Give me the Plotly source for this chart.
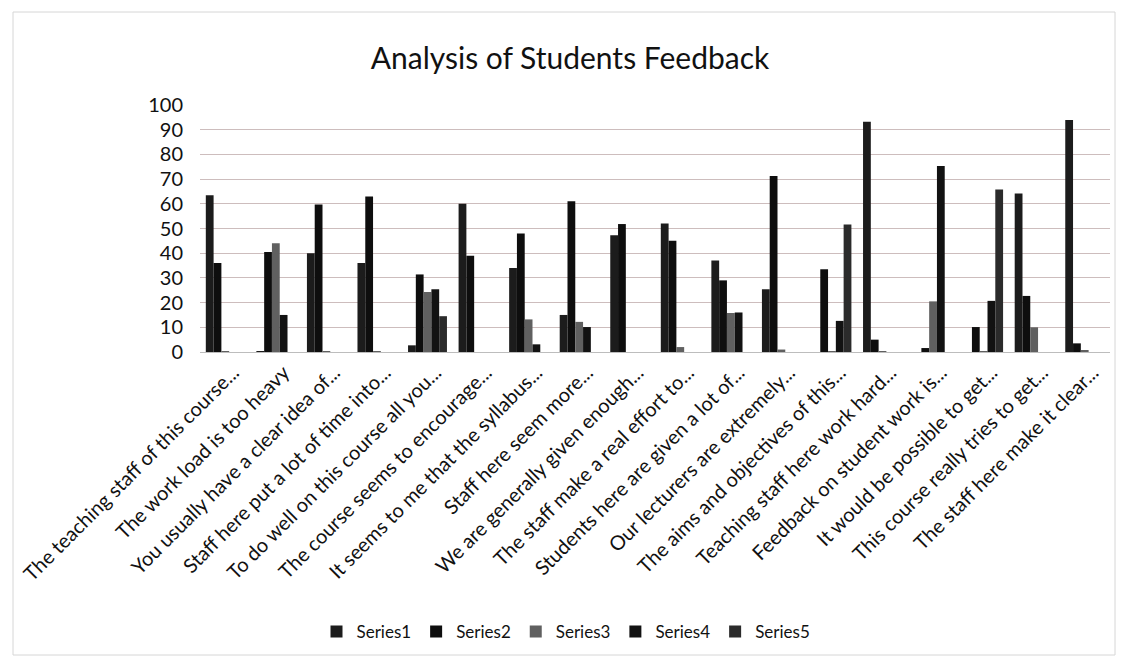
import plotly.graph_objects as go

categories = [
    "The teaching staff of this course...",
    "The work load is too heavy",
    "You usually have a clear idea of...",
    "Staff here put a lot of time into...",
    "To do well on this course all you...",
    "The course seems to encourage...",
    "It seems to me that the syllabus...",
    "Staff here seem more...",
    "We are generally given enough...",
    "The staff make a real effort to...",
    "Students here are given a lot of...",
    "Our lecturers are extremely...",
    "The aims and objectives of this...",
    "Teaching staff here work hard...",
    "Feedback on student work is...",
    "It would be possible to get...",
    "This course really tries to get...",
    "The staff here make it clear...",
]

series1 = [63.5, 0.3, 40, 36, 2.7, 60, 34, 15, 47.3, 52, 37, 25.4, 0, 93.2, 0, 0, 64.2, 93.9]
series2 = [36, 40.5, 59.7, 63, 31.4, 39, 48, 61, 51.8, 45, 29, 71.3, 33.5, 5, 1.6, 10.1, 22.7, 3.5]
series3 = [0.3, 44, 0.3, 0.3, 24.3, 0, 13.2, 12.2, 0, 2, 15.8, 1, 0.3, 0.3, 20.5, 0.3, 10, 0.5]
series4 = [0, 15, 0, 0, 25.4, 0, 3.1, 10.1, 0, 0, 16, 0, 12.6, 0, 75.3, 20.7, 0, 0]
series5 = [0, 0, 0, 0, 14.5, 0, 0, 0, 0, 0, 0, 0, 51.6, 0, 0, 65.8, 0, 0]

series_names = ["Series1", "Series2", "Series3", "Series4", "Series5"]
series_values = [series1, series2, series3, series4, series5]
series_colors = ["#1c1c1c", "#0e0e0e", "#606060", "#121212", "#2b2b2b"]

FONT = "Lato, Carlito, 'Open Sans', sans-serif"

fig = go.Figure()
for name, vals, col in zip(series_names, series_values, series_colors):
    fig.add_trace(go.Bar(
        name=name, x=categories, y=vals,
        marker=dict(color=col, line=dict(width=0)),
    ))

# page has an 8px body margin; work in page pixels and convert
OFF = 8
W, H = 1130 - 2 * OFF, 666 - 2 * OFF
PL, PR, PT, PB = 200, 1110, 105, 352   # plot area in page pixels
L, T = PL - OFF, PT - OFF
R = W - (PR - OFF)
B = H - (PB - OFF)
pw, ph = W - L - R, H - T - B

def px_x(p):
    return (p - OFF - L) / pw

def px_y(p):
    return (PB - p) / ph

fig.update_layout(
    width=W, height=H,
    margin=dict(l=L, r=R, t=T, b=B, autoexpand=False),
    paper_bgcolor="white", plot_bgcolor="white",
    font=dict(family=FONT, color="#111111", size=16),
    barmode="group", bargap=0.23, bargroupgap=0,
    title=dict(text="Analysis of Students Feedback", x=(570 - OFF) / W, xref="container",
               xanchor="center", y=1 - (58 - OFF) / H, yref="container", yanchor="middle",
               font=dict(size=30, family=FONT, color="#111111")),
    legend=dict(orientation="h", x=px_x(566), xanchor="center",
                y=px_y(632), yanchor="middle", font=dict(size=17),
                itemwidth=30, traceorder="normal"),
    showlegend=True,
)
fig.update_yaxes(range=[0, 100], dtick=10, tick0=0,
                 showgrid=True, gridcolor="#cdbdbd", gridwidth=1,
                 zeroline=False, showline=False, ticks="",
                 tickfont=dict(size=20, family=FONT, color="#111111"),
                 ticklabelstandoff=16)
fig.update_xaxes(tickangle=-45, showgrid=False, showline=True, linecolor="#bdbdbd",
                 ticks="", tickfont=dict(size=20, family=FONT, color="#111111"),
                 ticklabelshift=8)

# outer frame of the chart area
fig.add_shape(type="rect", xref="paper", yref="paper",
              x0=px_x(13), x1=px_x(1115), y0=px_y(655), y1=px_y(12),
              line=dict(color="#d6d6d6", width=1), fillcolor="rgba(0,0,0,0)", layer="below")

fig.write_html("out.html")
